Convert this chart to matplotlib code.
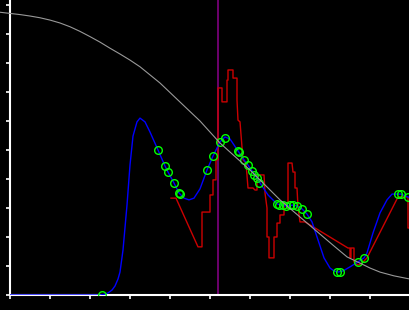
import numpy as np
import matplotlib
matplotlib.use("Agg")
import matplotlib.pyplot as plt

# grey reference curve
gray_x = [-0.25, 0.0, 0.25, 0.5, 0.75, 1.0, 1.25, 1.5, 1.75, 2.0, 2.25, 2.5, 2.75, 3.0, 3.25,
          3.75, 4.2, 4.75, 5.25, 6.0, 6.75, 7.25, 7.75, 8.1, 8.43, 8.75, 9.0, 9.25, 9.6, 10.0]
gray_y = [9.75, 9.71, 9.67, 9.62, 9.56, 9.48, 9.38, 9.25, 9.09, 8.91, 8.72, 8.51, 8.31, 8.10,
          7.87, 7.31, 6.72, 6.00, 5.24, 4.31, 3.28, 2.69, 2.10, 1.69, 1.31, 1.10, 0.93, 0.79,
          0.66, 0.55]

# blue smooth curve
blue_x = [0.0, 2.25, 2.35, 2.45, 2.55, 2.625, 2.7, 2.75, 2.825, 2.925, 3.0, 3.075, 3.175, 3.25,
          3.375, 3.5, 3.7, 3.875, 3.95, 4.1, 4.225, 4.35, 4.475, 4.6, 4.75, 4.925, 5.075, 5.25,
          5.375, 5.5, 5.7, 5.85, 5.95, 6.05, 6.175, 6.3, 6.45, 6.675, 6.9, 7.075, 7.175, 7.3,
          7.425, 7.55, 7.7, 7.85, 8.0, 8.1, 8.2, 8.325, 8.5, 8.7, 8.85, 8.925, 9.075, 9.25,
          9.425, 9.55, 9.7, 9.775, 9.95, 10.0]
blue_y = [0.0, 0.0, 0.02, 0.07, 0.17, 0.31, 0.55, 0.79, 1.55, 3.10, 4.48, 5.48, 5.97, 6.10,
          5.97, 5.62, 5.00, 4.45, 4.24, 3.86, 3.52, 3.34, 3.28, 3.34, 3.66, 4.31, 4.79, 5.28,
          5.45, 5.38, 4.97, 4.66, 4.48, 4.28, 4.03, 3.76, 3.45, 3.14, 3.07, 3.10, 3.07, 2.97,
          2.79, 2.52, 1.90, 1.28, 0.93, 0.83, 0.79, 0.83, 0.97, 1.14, 1.28, 1.45, 2.14, 2.83,
          3.28, 3.48, 3.48, 3.48, 3.38, 3.34]

# jagged red series
red_x = [4.025, 4.15, 4.7, 4.8, 4.8, 5.0, 5.0, 5.075, 5.075, 5.15, 5.15, 5.2, 5.2, 5.3, 5.3,
         5.425, 5.425, 5.45, 5.45, 5.575, 5.575, 5.675, 5.675, 5.7, 5.75, 5.8, 5.825, 5.9,
         5.95, 6.075, 6.125, 6.175, 6.175, 6.35, 6.375, 6.425, 6.425, 6.475, 6.475, 6.6, 6.6,
         6.675, 6.675, 6.75, 6.75, 6.85, 6.85, 6.95, 6.95, 7.05, 7.075, 7.125, 7.125, 7.175,
         7.2, 7.25, 7.375, 8.45, 8.5, 8.5, 8.525, 8.525, 8.6, 8.6, 8.7, 8.8, 8.925, 9.7, 9.95,
         9.95, 10.0]
red_y = [3.34, 3.34, 1.66, 1.66, 2.86, 2.86, 3.45, 3.45, 3.97, 3.97, 4.66, 4.66, 7.14, 7.14,
         6.66, 6.66, 7.41, 7.41, 7.76, 7.76, 7.48, 7.48, 6.72, 6.03, 5.97, 5.10, 4.66, 4.55,
         3.69, 3.69, 3.62, 3.62, 4.14, 4.14, 3.52, 3.00, 2.00, 2.00, 1.28, 1.28, 2.00, 2.00,
         2.48, 2.48, 2.76, 2.76, 3.17, 3.17, 4.55, 4.55, 4.24, 4.24, 3.69, 3.69, 3.03, 2.52,
         2.52, 1.62, 1.62, 1.28, 1.28, 1.62, 1.62, 1.14, 1.03, 1.10, 1.28, 3.38, 3.38, 2.31,
         2.31]

# green circle markers
pts_x = [2.3, 3.7, 3.875, 3.95, 4.1, 4.225, 4.25, 4.925, 5.075, 5.25, 5.375, 5.7, 5.725, 5.85,
         5.95, 6.05, 6.1, 6.175, 6.225, 6.675, 6.725, 6.825, 6.9, 7.0, 7.075, 7.175, 7.3,
         7.425, 8.175, 8.25, 8.7, 8.85, 9.7, 9.775, 9.95]
pts_y = [0.0, 5.0, 4.45, 4.24, 3.86, 3.52, 3.48, 4.31, 4.79, 5.28, 5.41, 4.97, 4.93, 4.66,
         4.48, 4.28, 4.14, 4.03, 3.86, 3.14, 3.10, 3.10, 3.07, 3.10, 3.10, 3.07, 2.97, 2.79,
         0.79, 0.79, 1.14, 1.28, 3.48, 3.48, 3.38]

vline_x = 5.21

fig = plt.figure(figsize=(4.1, 3.1), dpi=100, facecolor="black")
ax = fig.add_axes([10 / 410, 15 / 310, 400 / 410, 295 / 310])
ax.set_facecolor("black")

ax.plot(red_x, red_y, color="#cc0000", lw=1.0, zorder=2)
ax.plot(blue_x, blue_y, color="#0000ff", lw=1.0, zorder=3)
ax.plot(pts_x, pts_y, "o", ms=5.5, mfc="none", mec="#00ff00", mew=1.0, zorder=4)
ax.plot(gray_x, gray_y, color="#999999", lw=0.8, zorder=5, clip_on=False)
ax.axvline(vline_x, color="#800080", lw=1.2, zorder=1)

ax.set_xlim(0, 10)
ax.set_ylim(0, 295 / 29)
ax.set_xticks(np.arange(0, 11))
ax.set_yticks(np.arange(0, 11))
ax.set_xticklabels([])
ax.set_yticklabels([])
ax.tick_params(colors="white", direction="out", length=3, width=1.2)
for s in ["top", "right"]:
    ax.spines[s].set_visible(False)
for s in ["left", "bottom"]:
    ax.spines[s].set_color("white")
    ax.spines[s].set_linewidth(1.5)

fig.savefig("out.png", dpi=100, facecolor="black")
